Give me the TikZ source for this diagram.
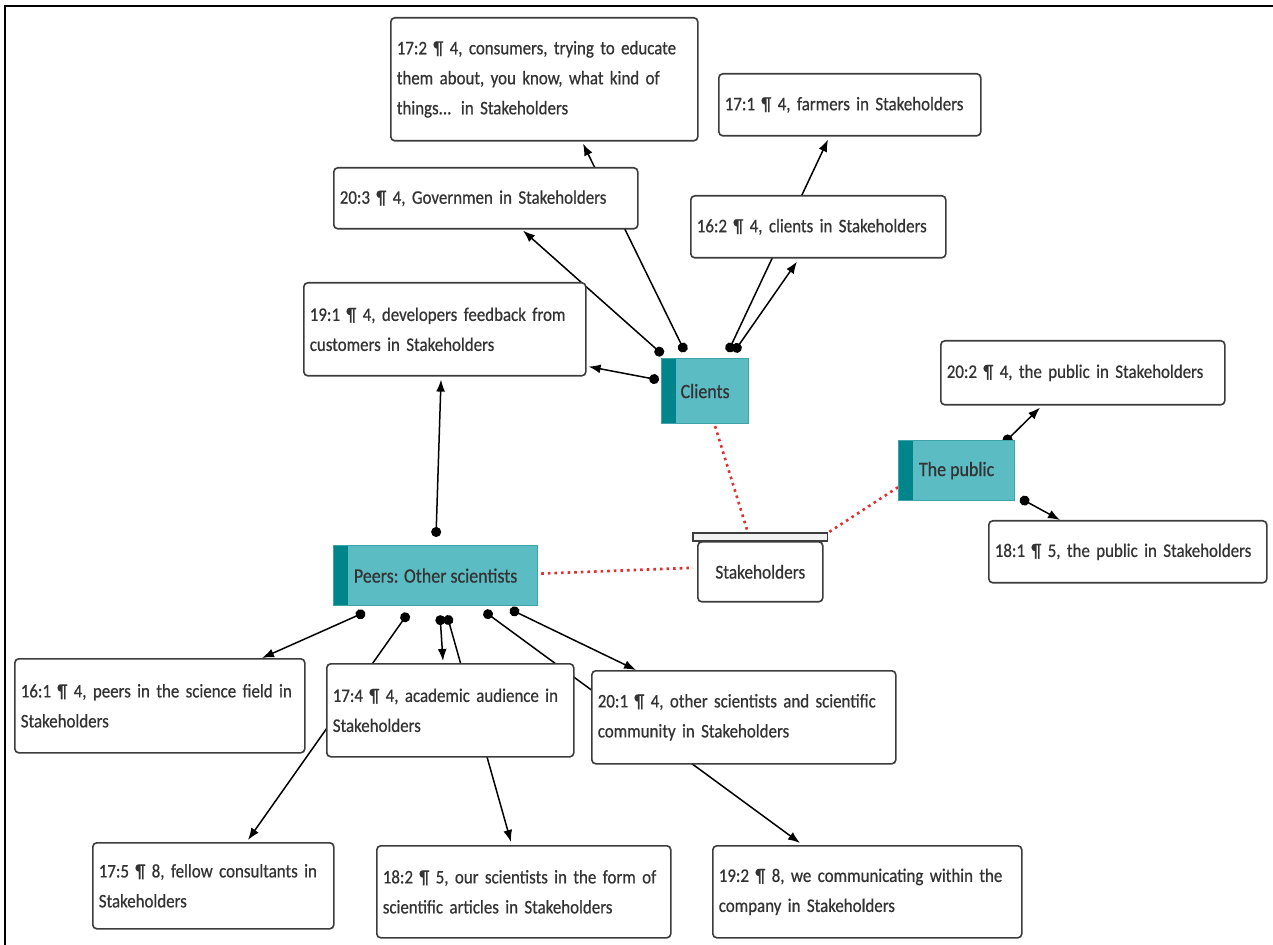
\documentclass[tikz,border=0pt]{standalone}
\usepackage{fontspec}
\setmainfont{Carlito}[FakeStretch=0.88,FakeBold=0.6]
\usetikzlibrary{arrows.meta,calc,backgrounds}
\hyphenpenalty=10000

\definecolor{quoteline}{HTML}{3C3C3C}
\definecolor{codefill}{HTML}{5CBCC4}
\definecolor{codedark}{HTML}{00858B}
\definecolor{codeline}{HTML}{3FA3AB}
\definecolor{tiered}{HTML}{E0302F}
\definecolor{inktext}{HTML}{333333}

\tikzset{
  quotebox/.style={draw=quoteline, line width=0.8pt, fill=white, rounded corners=2pt,
    anchor=north west, align=left, inner xsep=3pt, inner ysep=2pt, text=inktext,
    font=\fontsize{9.6}{15}\selectfont},
  codebox/.style={draw=codeline, line width=0.6pt, fill=codefill, anchor=north west,
    inner sep=0pt, text=inktext, font=\fontsize{10.2}{13}\selectfont,
    path picture={\fill[codedark] (path picture bounding box.north west)
      rectangle ([xshift=7pt]path picture bounding box.south west);}},
  link/.style={{Circle[length=5pt]}-{Latex[length=6pt,width=4.5pt]}, line width=0.75pt},
  tie/.style={tiered, dotted, line width=1.3pt},
}

\begin{document}
\begin{tikzpicture}[x=0.5pt,y=-0.5pt]
\useasboundingbox (0,0) rectangle (1273,945);
\draw[line width=1.2pt] (5,945) -- (5,6) -- (1273,6);

% codes
\node[codebox, minimum width=43.5pt, minimum height=32.5pt] (clients) at (661,358) {Clients};
\node[codebox, minimum width=58pt, minimum height=30pt] (public) at (898,440) {The public};
\node[codebox, minimum width=102pt, minimum height=30pt] (peers) at (333,545) {Peers: Other scientists};

% the group
\node[draw=quoteline, line width=0.8pt, fill=white, rounded corners=2pt, anchor=north west,
  minimum width=62.5pt, minimum height=30pt, text=inktext, font=\fontsize{9.8}{13}\selectfont]
  (stake) at (697,541) {Stakeholders};
\draw[quoteline, fill=black!5, line width=0.6pt] ($(stake.north west)+(-4,0)$) rectangle ($(stake.north east)+(4,-8)$);

% quotations
\node[quotebox, text width=147.5pt, minimum height=61.5pt] (consumers) at (390,17)
  {17:2 ¶ 4, consumers, trying to educate\\them about, you know, what kind of\\things... in Stakeholders};
\node[quotebox, text width=125pt, minimum height=31pt] (farmers) at (718,73)
  {17:1 ¶ 4, farmers in Stakeholders};
\node[quotebox, text width=146pt, minimum height=30.5pt] (govern) at (333,167)
  {20:3 ¶ 4, Governmen in Stakeholders};
\node[quotebox, text width=121.5pt, minimum height=31pt] (clientsq) at (690,195)
  {16:2 ¶ 4, clients in Stakeholders};
\node[quotebox, text width=135pt, minimum height=46.5pt] (develop) at (303,282)
  {19:1 ¶ 4, developers feedback from\\customers in Stakeholders};
\node[quotebox, text width=136pt, minimum height=32pt] (publicA) at (940,340)
  {20:2 ¶ 4, the public in Stakeholders};
\node[quotebox, text width=133pt, minimum height=31pt] (publicB) at (988,520)
  {18:1 ¶ 5, the public in Stakeholders};
\node[quotebox, text width=139pt, minimum height=47pt] (science) at (14,658)
  {16:1 ¶ 4, peers in the science field in\\Stakeholders};
\node[quotebox, text width=117.5pt, minimum height=46.5pt] (academic) at (326,663)
  {17:4 ¶ 4, academic audience in\\Stakeholders};
\node[quotebox, text width=146pt, minimum height=46.5pt] (community) at (591,670)
  {20:1 ¶ 4, other scientists and scientific\\community in Stakeholders};
\node[quotebox, text width=114.5pt, minimum height=43pt] (fellow) at (92,842)
  {17:5 ¶ 8, fellow consultants in\\Stakeholders};
\node[quotebox, text width=141pt, minimum height=46pt] (articles) at (376,845)
  {18:2 ¶ 5, our scientists in the form of\\scientific articles in Stakeholders};
\node[quotebox, text width=148.5pt, minimum height=46pt] (company) at (712,845)
  {19:2 ¶ 8, we communicating within the\\company in Stakeholders};

\begin{scope}[on background layer]
  % links out of the codes
  \draw[link] ($(clients.north west)+(2,-3)$) -- ($(govern.south west)+(190,1)$);
  \draw[link] ($(clients.north west)+(24,-6)$) -- ($(consumers.south west)+(193,2)$);
  \draw[link] ($(clients.north west)+(67,-6)$) -- ($(farmers.south west)+(110,3)$);
  \draw[link] ($(clients.north west)+(73,-6)$) -- ($(clientsq.south west)+(107,3)$);
  \draw[link] ($(clients.north west)+(-2,22)$) -- ($(develop.south east)+(2,-10)$);

  \draw[link] ($(peers.north west)+(103,-8)$) -- ($(develop.south west)+(138,3)$);
  \draw[link] ($(peers.south west)+(32,6)$) -- ($(science.north west)+(248,0)$);
  \draw[link] ($(peers.south west)+(75,7)$) -- ($(fellow.north west)+(156,-2)$);
  \draw[link] ($(peers.south west)+(107,9)$) -- ($(academic.north west)+(117,-2)$);
  \draw[link] ($(peers.south west)+(114,9)$) -- ($(articles.north west)+(135,-3)$);
  \draw[link] ($(peers.south west)+(151,5)$) -- ($(company.north west)+(88,-2)$);
  \draw[link] ($(peers.south west)+(177,3)$) -- ($(community.north west)+(45,0)$);

  \draw[link] ($(public.north west)+(106,3)$) -- ($(publicA.south west)+(100,2)$);
  \draw[link] ($(public.south east)+(5,-3)$) -- ($(publicB.north west)+(72,0)$);

  % members of the group
  \draw[tie] ($(clients.south)+(10,2)$) -- ($(stake.north west)+(51,-8)$);
  \draw[tie] ($(public.south west)+(0,-14)$) -- ($(stake.north east)+(4,-8)$);
  \draw[tie] ($(peers.east)+(3,-2)$) -- ($(stake.west)+(-4,-4)$);
\end{scope}
\end{tikzpicture}
\end{document}
